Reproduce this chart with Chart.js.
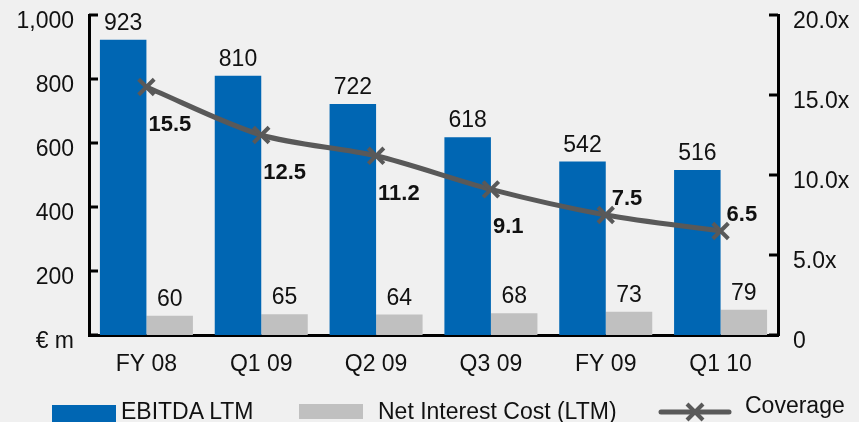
<!DOCTYPE html>
<html>
<head>
<meta charset="utf-8">
<script src="https://cdn.jsdelivr.net/npm/chart.js@4/dist/chart.umd.min.js"></script>
<style>
  html, body { margin: 0; padding: 0; background: #f0f0f0; }
  #wrap { position: relative; width: 859px; height: 422px; overflow: hidden; font-family: "Liberation Sans", Arial, sans-serif; }
  .lg { position: absolute; font-size: 23px; line-height: 23px; color: #111; white-space: nowrap; }
  .box { position: absolute; }
</style>
</head>
<body>
<div id="wrap">
  <canvas id="coverageChart" width="859" height="422"></canvas>
  <div class="box" style="left:52px; top:405px; width:64px; height:20px; background:#0066b3;"></div>
  <div class="lg" style="left:121px; top:400px;">EBITDA LTM</div>
  <div class="box" style="left:299px; top:404px; width:64px; height:15px; background:#c0c0c0;"></div>
  <div class="lg" style="left:378px; top:400px;">Net Interest Cost (LTM)</div>
  <svg class="box" style="left:655px; top:399px;" width="80" height="24">
    <line x1="6" y1="13" x2="74" y2="13" stroke="#595959" stroke-width="5" stroke-linecap="round"/>
    <line x1="32" y1="5" x2="48" y2="21" stroke="#595959" stroke-width="4"/>
    <line x1="48" y1="5" x2="32" y2="21" stroke="#595959" stroke-width="4"/>
  </svg>
  <div class="lg" style="left:745px; top:394px;">Coverage</div>
</div>
<script>
// Data
const periods = ["FY 08", "Q1 09", "Q2 09", "Q3 09", "FY 09", "Q1 10"];
const ebitda = [923, 810, 722, 618, 542, 516];
const interestCost = [60, 65, 64, 68, 73, 79];
const coverage = [15.5, 12.5, 11.2, 9.1, 7.5, 6.5];

const FONT = "'Liberation Sans', Arial, sans-serif";

// inward tick marks on both value axes + value labels
const extrasPlugin = {
  id: "extras",
  afterDatasetsDraw(chart, args, opts) {
    const ctx = chart.ctx;
    ctx.save();
    // bar labels
    ctx.font = "23px " + FONT;
    ctx.fillStyle = "#111";
    ctx.textAlign = "center";
    ctx.textBaseline = "alphabetic";
    [0, 1].forEach(di => {
      const meta = chart.getDatasetMeta(di);
      meta.data.forEach((bar, i) => {
        ctx.fillText(chart.data.datasets[di].data[i], bar.x, bar.y - 10);
      });
    });
    // coverage labels
    ctx.font = "bold 22px " + FONT;
    ctx.textAlign = "left";
    const lineMeta = chart.getDatasetMeta(2);
    lineMeta.data.forEach((pt, i) => {
      const below = opts.side[i] === "below";
      ctx.fillText(coverage[i].toFixed(1), pt.x + (below ? 2 : 6), below ? pt.y + 44 : pt.y - 10);
    });
    ctx.restore();
  },
  afterDraw(chart) {
    const ctx = chart.ctx;
    ctx.save();
    ctx.strokeStyle = "#000";
    ctx.lineWidth = 3;
    const y = chart.scales.y, y1 = chart.scales.y1;
    y.ticks.forEach((t, i) => {
      const py = y.getPixelForTick(i);
      ctx.beginPath(); ctx.moveTo(y.right, py); ctx.lineTo(y.right + 9, py); ctx.stroke();
    });
    y1.ticks.forEach((t, i) => {
      const py = y1.getPixelForTick(i);
      ctx.beginPath(); ctx.moveTo(y1.left, py); ctx.lineTo(y1.left - 9, py); ctx.stroke();
    });
    ctx.restore();
  }
};

Chart.defaults.font.family = FONT;
Chart.defaults.font.size = 23;
Chart.defaults.color = "#111";

const fitY = w => s => { s.width = w; s.paddingTop = 0; s.paddingBottom = 0; };

new Chart(document.getElementById("coverageChart"), {
  data: {
    labels: periods,
    datasets: [
      {
        type: "bar",
        label: "EBITDA LTM",
        data: ebitda,
        backgroundColor: "#0066b3",
        yAxisID: "y",
        categoryPercentage: 0.81,
        barPercentage: 1,
        order: 2
      },
      {
        type: "bar",
        label: "Net Interest Cost (LTM)",
        data: interestCost,
        backgroundColor: "#c0c0c0",
        yAxisID: "y",
        categoryPercentage: 0.81,
        barPercentage: 1,
        order: 2
      },
      {
        type: "line",
        label: "Coverage",
        data: coverage,
        yAxisID: "y1",
        borderColor: "#595959",
        borderWidth: 5,
        tension: 0.3,
        pointStyle: "crossRot",
        pointRadius: 11,
        pointBorderWidth: 4,
        pointBorderColor: "#595959",
        order: 0
      }
    ]
  },
  options: {
    responsive: false,
    animation: false,
    layout: { padding: { left: 0, right: 0, top: 14, bottom: 32 } },
    plugins: {
      legend: { display: false },
      tooltip: { enabled: false },
      extras: { side: ["below", "below", "below", "below", "above", "above"] }
    },
    scales: {
      x: {
        grid: { display: false },
        border: { color: "#000", width: 3 },
        ticks: { padding: 8 },
        afterFit: s => { s.height = 55; s.paddingLeft = 0; s.paddingRight = 0; }
      },
      y: {
        position: "left",
        min: 0,
        max: 1000,
        grid: { display: false, drawTicks: false },
        border: { color: "#000", width: 3 },
        afterFit: fitY(89),
        ticks: {
          stepSize: 200,
          padding: 15,
          labelOffset: 7,
          callback: v => v === 0 ? "€ m" : v.toLocaleString("en-US")
        }
      },
      y1: {
        position: "right",
        min: 0,
        max: 20,
        grid: { display: false, drawTicks: false },
        border: { color: "#000", width: 3 },
        afterFit: fitY(81),
        ticks: {
          stepSize: 5,
          padding: 15,
          labelOffset: 7,
          callback: v => v === 0 ? "0" : v.toFixed(1) + "x"
        }
      }
    }
  },
  plugins: [extrasPlugin]
});
</script>
</body>
</html>
